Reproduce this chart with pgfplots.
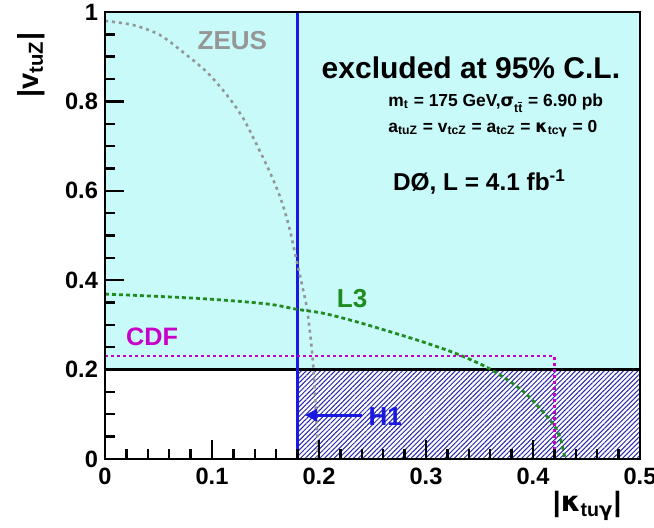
\documentclass[border=0pt]{standalone}
\usepackage{pgfplots}
\pgfplotsset{compat=1.18}
\usepackage{fontspec}
\setmainfont{Liberation Sans}
\newfontfamily\gr{DejaVu Sans}
\usetikzlibrary{patterns.meta,arrows.meta}
\definecolor{cyanfill}{RGB}{200,250,250}
\definecolor{hblue}{RGB}{40,40,170}
\definecolor{lblue}{RGB}{25,25,225}
\definecolor{zgray}{RGB}{150,150,150}
\definecolor{lgreen}{RGB}{30,140,30}
\definecolor{cmag}{RGB}{200,0,200}
\begin{document}
\begin{tikzpicture}
\begin{axis}[
  scale only axis, width=267.5pt, height=223.5pt,
  xmin=0, xmax=0.5, ymin=0, ymax=1,
  xtick={0,0.1,0.2,0.3,0.4,0.5}, ytick={0,0.2,0.4,0.6,0.8,1},
  minor x tick num=4, minor y tick num=3,
  tick align=inside, tick pos=left,
  major tick length=9.5pt, minor tick length=4.75pt,
  axis line style={line width=1.2pt},
  every tick/.style={black, line width=1.2pt},
  axis on top, clip=false,
  /pgf/number format/assume math mode=true,
  ticklabel style={font=\fontsize{11.8}{13}\selectfont\bfseries},
  xticklabel style={yshift=-1pt},
]
% excluded region (cyan)
\addplot[fill=cyanfill, draw=none] coordinates {(0,0.2) (0.5,0.2) (0.5,1) (0,1) (0,0.2)};
% H1 hatched region
\addplot[draw=none, pattern={Lines[angle=45,distance=1.7pt,line width=0.5pt]}, pattern color=hblue]
  coordinates {(0.18,0) (0.5,0) (0.5,0.2) (0.18,0.2) (0.18,0)};
% black line at 0.2
\addplot[black, line width=1.2pt] coordinates {(0,0.2) (0.5,0.2)};
% blue H1 line
\addplot[lblue, line width=1.2pt] coordinates {(0.18,0) (0.18,1)};
% ZEUS
\addplot[zgray, line width=1.3pt, dash pattern=on 1.5pt off 2pt, smooth, tension=0.5] coordinates {
(0,0.98) (0.026,0.971) (0.051,0.949) (0.073,0.91) (0.095,0.866) (0.114,0.814)
(0.129,0.763) (0.142,0.702) (0.154,0.642) (0.164,0.584) (0.172,0.52) (0.179,0.445)
(0.185,0.38) (0.189,0.333) (0.194,0.228) (0.196,0.15) (0.198,0.07) (0.199,0)};
% L3
\addplot[lgreen, line width=1.4pt, dash pattern=on 2pt off 1.5pt, smooth, tension=0.5] coordinates {
(0,0.369) (0.089,0.359) (0.151,0.347) (0.179,0.335) (0.204,0.326) (0.235,0.307)
(0.266,0.285) (0.297,0.262) (0.329,0.235) (0.360,0.201) (0.391,0.151) (0.416,0.087)
(0.425,0.05) (0.430,0.0)};
% CDF
\addplot[cmag, line width=1.2pt, dash pattern=on 1.5pt off 1.5pt] coordinates {
(0,0.23) (0.42,0.23) (0.42,0)};
% H1 arrow
\addplot[lblue, line width=1.5pt, -{Triangle[length=6pt,width=6pt]}] coordinates {(0.240,0.098) (0.187,0.098)};

\node[font=\fontsize{13}{15}\selectfont\bfseries, text=zgray] at (axis cs:0.119,0.937) {ZEUS};
\node[font=\fontsize{12.6}{14}\selectfont\bfseries, text=cmag] at (axis cs:0.044,0.273) {CDF};
\node[font=\fontsize{13}{14}\selectfont\bfseries, text=lgreen] at (axis cs:0.231,0.358) {L3};
\node[font=\fontsize{13}{14}\selectfont\bfseries, text=lblue] at (axis cs:0.262,0.094) {H1};

\node[font=\fontsize{15}{17}\selectfont\bfseries] at (axis cs:0.342,0.875) {excluded at 95\% C.L.};
\node[font=\fontsize{8.7}{10}\selectfont\bfseries, anchor=base west, inner sep=0] at (axis cs:0.2645,0.7875)
  {m\textsubscript{t} = 175 GeV,{\gr σ}\textsubscript{t$\overline{\mbox{t}}$} = 6.90 pb};
\node[font=\fontsize{8.7}{10}\selectfont\bfseries, anchor=base west, inner sep=0] at (axis cs:0.2645,0.7315)
  {a\textsubscript{tuZ} = v\textsubscript{tcZ} = a\textsubscript{tcZ} = {\gr κ}\textsubscript{tc{\gr γ}} = 0};
\node[font=\fontsize{12.2}{14}\selectfont\bfseries] at (axis cs:0.350,0.62) {DØ, L = 4.1 fb\textsuperscript{-1}};

\node[rotate=90, anchor=east, inner sep=0, font=\fontsize{14.5}{17}\selectfont\bfseries] at (axis cs:-0.069,0.955)
  {|v\textsubscript{tuZ}|};
\node[anchor=east, inner sep=0, font=\fontsize{14}{16}\selectfont\bfseries] at (axis cs:0.483,-0.105)
  {|{\gr κ}\textsubscript{tu{\gr γ}}|};
\end{axis}
\pgfresetboundingbox
\path[use as bounding box] (-52.5pt,-34.5pt) rectangle (274.5pt,229.5pt);
\end{tikzpicture}
\end{document}
